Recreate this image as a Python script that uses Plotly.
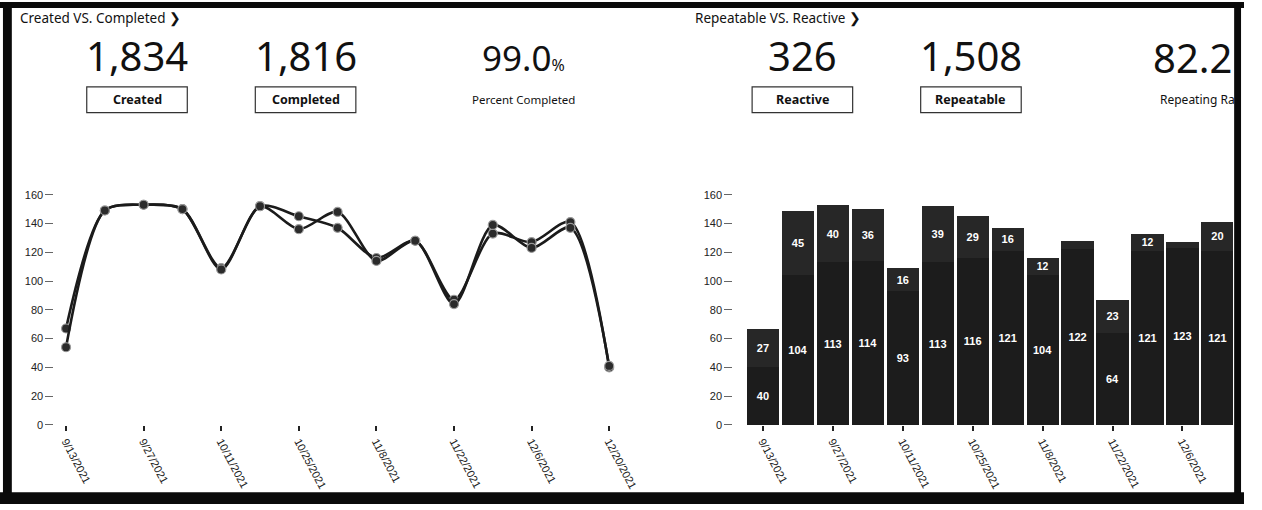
import plotly.graph_objects as go

# ---------------- data ----------------
weeks = ["9/13/2021", "9/20/2021", "9/27/2021", "10/4/2021", "10/11/2021", "10/18/2021",
         "10/25/2021", "11/1/2021", "11/8/2021", "11/15/2021", "11/22/2021", "11/29/2021",
         "12/6/2021", "12/13/2021", "12/20/2021"]
created = [67, 149, 153, 150, 109, 152, 145, 137, 116, 128, 87, 133, 127, 141, 40]
completed = [54, 149, 153, 150, 108, 152, 136, 148, 114, 128, 84, 139, 123, 137, 41]

bar_weeks = weeks[:14]
repeatable = [40, 104, 113, 114, 93, 113, 116, 121, 104, 122, 64, 121, 123, 121]
reactive = [27, 45, 40, 36, 16, 39, 29, 16, 12, 6, 23, 12, 4, 20]

tick_labels = weeks[::2]
y_ticks = [0, 20, 40, 60, 80, 100, 120, 140, 160]

kpi_left = [("1,834", "Created"), ("1,816", "Completed")]
kpi_right = [("326", "Reactive"), ("1,508", "Repeatable")]

# ---------------- figure ----------------
W, H = 1262, 510
def px(x):
    return x / W
def py(y):
    return 1 - y / H

fig = go.Figure()

line_color = "#1b1b1b"
for name, vals in [("Created", created), ("Completed", completed)]:
    fig.add_trace(go.Scatter(
        x=weeks, y=vals, name=name, mode="lines+markers",
        line=dict(color=line_color, width=2.6, shape="spline", smoothing=0.8),
        marker=dict(size=9, color="#2b2b2b", line=dict(color="#9a9a9a", width=1.2)),
        xaxis="x", yaxis="y", showlegend=False,
    ))

narrow = "Liberation Sans Narrow, Arial Narrow, Liberation Sans"
# segments too thin for a label show none (as in the dashboard)
def seg_text(vals):
    return [str(v) if v >= 10 else "" for v in vals]

fig.add_trace(go.Bar(
    x=bar_weeks, y=repeatable, name="Repeatable", text=seg_text(repeatable),
    marker=dict(color="#1c1c1c", line=dict(width=0)),
    textposition="inside", insidetextanchor="middle", textangle=0,
    textfont=dict(color="white", size=11, family=narrow, weight="bold"),
    xaxis="x2", yaxis="y2", showlegend=False,
))
fig.add_trace(go.Bar(
    x=bar_weeks, y=reactive, name="Reactive", text=seg_text(reactive),
    marker=dict(color="#272727", line=dict(width=0)),
    textposition="inside", insidetextanchor="middle", textangle=0,
    textfont=dict(color="white", size=11, family=narrow, weight="bold"),
    xaxis="x2", yaxis="y2", showlegend=False,
))

y0_px, y160_px = 430, 197
unit = (y0_px - y160_px) / 160.0
ytop = 166
ydom = [py(y0_px), py(y0_px - ytop * unit)]

tickfont = dict(family=narrow, size=11, color="#222")

# line chart x: 9/13 at 67px, 12/20 at 618px
sp = (618 - 67) / 14.0
lx0, lx1 = -0.3, 14.3
xdom1 = [px(67 + lx0 * sp), px(67 + lx1 * sp)]
# bar chart: 9/13 center at 774, 12/13 at 1235
bs = (1235 - 774) / 13.0
bx0, bx1 = -0.85, 13.47
xdom2 = [px(774 + bx0 * bs), px(774 + bx1 * bs)]

common_x = dict(type="category", tickangle=62, tickvals=tick_labels, ticktext=tick_labels,
                ticks="outside", ticklen=5, tickwidth=2, tickcolor="#222",
                showgrid=False, showline=False, zeroline=False, tickfont=dict(tickfont, size=11))
common_y = dict(range=[0, ytop], tickvals=y_ticks, ticks="outside", ticklen=8, tickwidth=1,
                tickcolor="#666", showgrid=False, showline=False, zeroline=False, tickfont=tickfont)

fig.update_layout(
    width=W, height=H, margin=dict(l=0, r=0, t=0, b=0),
    paper_bgcolor="white", plot_bgcolor="white",
    barmode="stack", bargap=0.08,
    xaxis=dict(common_x, domain=xdom1, range=[lx0, lx1], anchor="y"),
    yaxis=dict(common_y, domain=ydom, anchor="x"),
    xaxis2=dict(common_x, domain=xdom2, range=[bx0, bx1], anchor="y2"),
    yaxis2=dict(common_y, domain=ydom, anchor="x2"),
)

ann = []
font_ui = "Noto Sans, Open Sans, Liberation Sans"
# titles
ann.append(dict(text="Created VS. Completed ❯", x=px(18), y=py(18), xanchor="left", yanchor="middle",
                font=dict(family=font_ui, size=13.5, color="#111")))
ann.append(dict(text="Repeatable VS. Reactive ❯", x=px(703), y=py(18), xanchor="left", yanchor="middle",
                font=dict(family=font_ui, size=13.5, color="#111")))

shapes = []
def kpi(cx, value, label):
    ann.append(dict(text=value, x=px(cx), y=py(56), xanchor="center", yanchor="middle",
                    font=dict(family=font_ui, size=40, color="#111")))
    ann.append(dict(text="<b>" + label + "</b>", x=px(cx), y=py(101), xanchor="center", yanchor="middle",
                    font=dict(family=font_ui, size=12.5, color="#111")))
    shapes.append(dict(type="rect", xref="paper", yref="paper", x0=px(cx - 51), x1=px(cx + 51),
                       y0=py(114), y1=py(88), line=dict(color="#333", width=1.2), fillcolor="rgba(0,0,0,0)"))

for cx, (v, l) in zip([139, 310], kpi_left):
    kpi(cx, v, l)
for cx, (v, l) in zip([814, 985], kpi_right):
    kpi(cx, v, l)

ann.append(dict(text="99.0<span style='font-size:16px'>%</span>", x=px(531), y=py(58), xanchor="center",
                yanchor="middle", font=dict(family=font_ui, size=35, color="#111")))
ann.append(dict(text="Percent Completed", x=px(531), y=py(101), xanchor="center", yanchor="middle",
                font=dict(family=font_ui, size=11.5, color="#111")))
ann.append(dict(text="82.2", x=px(1252), y=py(58), xanchor="right", yanchor="middle",
                font=dict(family=font_ui, size=40, color="#111")))
ann.append(dict(text="Repeating Ra", x=px(1255), y=py(101), xanchor="right", yanchor="middle",
                font=dict(family=font_ui, size=12, color="#111")))

for a in ann:
    a.update(xref="paper", yref="paper", showarrow=False)

# scan frame
frame = "#0a0a0a"
shapes += [
    dict(type="rect", x0=0, x1=1, y0=py(8), y1=py(2), fillcolor=frame, line=dict(width=0)),
    dict(type="rect", x0=px(3), x1=px(12), y0=py(503), y1=py(2), fillcolor=frame, line=dict(width=0)),
    dict(type="rect", x0=px(1252), x1=px(1259), y0=py(503), y1=py(2), fillcolor=frame, line=dict(width=0)),
    dict(type="rect", x0=0, x1=1, y0=py(510), y1=py(498), fillcolor=frame, line=dict(width=0)),
]
for s in shapes[-4:]:
    s.update(xref="paper", yref="paper", layer="above")

fig.update_layout(annotations=ann, shapes=shapes)
fig.write_html("out.html")
